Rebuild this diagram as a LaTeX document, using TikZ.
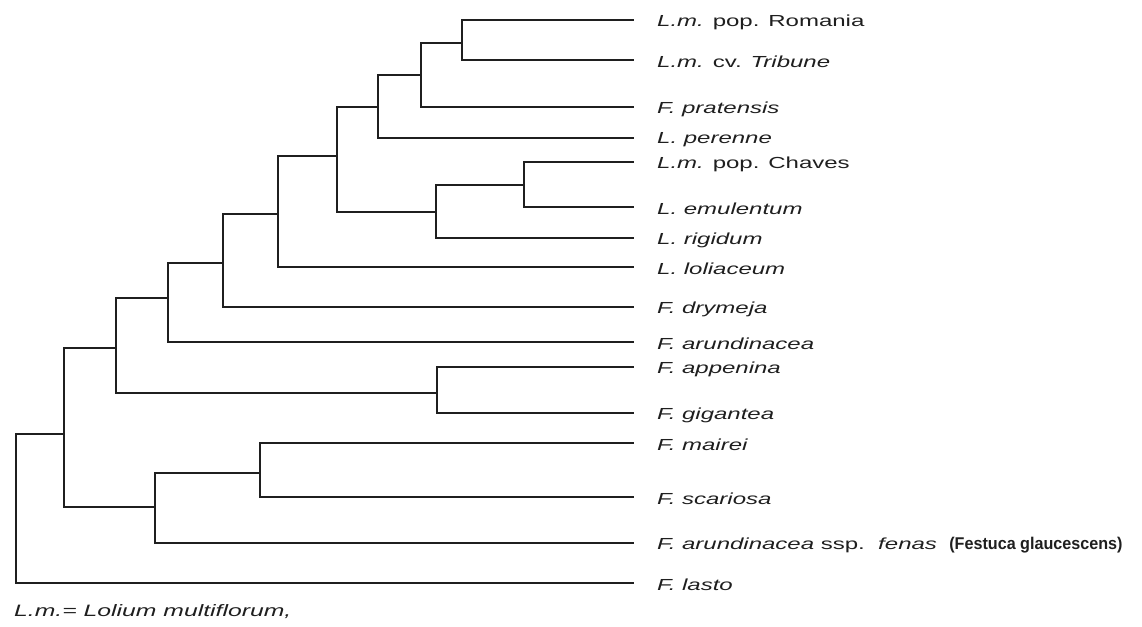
\documentclass[tikz,border=0pt]{standalone}
\usepackage{fontspec}
\setmainfont{Liberation Sans}
\newfontfamily\taxfont[FakeStretch=1.5]{Liberation Sans}
\newfontfamily\synfont[FakeStretch=0.95]{Liberation Sans}
\usepackage{xcolor}
\usepackage{tikz}
\usetikzlibrary{positioning}
\definecolor{myink}{gray}{0.12}
\tikzstyle{branch} = [line width=1.6pt, draw=myink, line cap=rect]
\tikzstyle{taxon} = [anchor=mid west, inner sep=0pt, yshift=-2pt, text=myink, font=\taxfont\fontsize{16}{18}\selectfont]

\begin{document}
\begin{tikzpicture}[x=1pt,y=-1pt]
\useasboundingbox (0,0) rectangle (1142,626);

% inner nodes of the tree
\coordinate (root) at (16,434);
\coordinate (k) at (64,434);
\coordinate (j) at (116,348);
\coordinate (i) at (168,298);
\coordinate (h) at (223,263);
\coordinate (g) at (278,214);
\coordinate (d) at (337,156);
\coordinate (c) at (378,107);
\coordinate (b) at (421,75);
\coordinate (a) at (462,43);
\coordinate (f) at (436,212);
\coordinate (e) at (524,185);
\coordinate (l) at (437,393);
\coordinate (n) at (155,507);
\coordinate (m) at (260,473);

% leaf ends
\coordinate (romania) at (633,20);
\coordinate (tribune) at (633,60);
\coordinate (pratensis) at (633,107);
\coordinate (perenne) at (633,138);
\coordinate (chaves) at (633,162);
\coordinate (emulentum) at (633,207);
\coordinate (rigidum) at (633,238);
\coordinate (loliaceum) at (633,267);
\coordinate (drymeja) at (633,307);
\coordinate (arundinacea) at (633,342);
\coordinate (appenina) at (633,367);
\coordinate (gigantea) at (633,413);
\coordinate (mairei) at (633,443);
\coordinate (scariosa) at (633,497);
\coordinate (fenas) at (633,543);
\coordinate (lasto) at (633,583);

\node[taxon, right=24pt of romania] (romanialab) {\textit{L.m.} pop. Romania};
\node[taxon, right=24pt of tribune] (tribunelab) {\textit{L.m.} cv. \textit{Tribune}};
\node[taxon, right=24pt of pratensis] (pratensislab) {\textit{F. pratensis}};
\node[taxon, right=24pt of perenne] (perennelab) {\textit{L. perenne}};
\node[taxon, right=24pt of chaves] (chaveslab) {\textit{L.m.} pop. Chaves};
\node[taxon, right=24pt of emulentum] (emulentumlab) {\textit{L. emulentum}};
\node[taxon, right=24pt of rigidum] (rigidumlab) {\textit{L. rigidum}};
\node[taxon, right=24pt of loliaceum] (loliaceumlab) {\textit{L. loliaceum}};
\node[taxon, right=24pt of drymeja] (drymejalab) {\textit{F. drymeja}};
\node[taxon, right=24pt of arundinacea] (arundinacealab) {\textit{F. arundinacea}};
\node[taxon, right=24pt of appenina] (appeninalab) {\textit{F. appenina}};
\node[taxon, right=24pt of gigantea] (gigantealab) {\textit{F. gigantea}};
\node[taxon, right=24pt of mairei] (maireilab) {\textit{F. mairei}};
\node[taxon, right=24pt of scariosa] (scariosalab) {\textit{F. scariosa}};
\node[taxon, right=24pt of fenas] (fenaslab) {\textit{F. arundinacea} ssp.\ \ \textit{fenas}};
\node[anchor=west, inner sep=0pt, text=myink,
font=\synfont\bfseries\fontsize{17}{19}\selectfont,
right=12pt of fenaslab] (glaucescens) {(Festuca glaucescens)};
\node[taxon, right=24pt of lasto] (lastolab) {\textit{F. lasto}};

\node[
anchor=mid west,
inner sep=0pt,
text=myink,
font=\taxfont\itshape\fontsize{16.5}{18}\selectfont
] (footnote) at (14,614) {L.m.= Lolium multiflorum,};

% branches
\draw[branch] (root) |- (k);
\draw[branch] (root) |- (lasto);
\draw[branch] (k) |- (j);
\draw[branch] (k) |- (n);
\draw[branch] (j) |- (i);
\draw[branch] (j) |- (l);
\draw[branch] (i) |- (h);
\draw[branch] (i) |- (arundinacea);
\draw[branch] (h) |- (g);
\draw[branch] (h) |- (drymeja);
\draw[branch] (g) |- (d);
\draw[branch] (g) |- (loliaceum);
\draw[branch] (d) |- (c);
\draw[branch] (d) |- (f);
\draw[branch] (c) |- (b);
\draw[branch] (c) |- (perenne);
\draw[branch] (b) |- (a);
\draw[branch] (b) |- (pratensis);
\draw[branch] (a) |- (romania);
\draw[branch] (a) |- (tribune);
\draw[branch] (f) |- (e);
\draw[branch] (f) |- (rigidum);
\draw[branch] (e) |- (chaves);
\draw[branch] (e) |- (emulentum);
\draw[branch] (l) |- (appenina);
\draw[branch] (l) |- (gigantea);
\draw[branch] (n) |- (m);
\draw[branch] (n) |- (fenas);
\draw[branch] (m) |- (mairei);
\draw[branch] (m) |- (scariosa);
\end{tikzpicture}
\end{document}
